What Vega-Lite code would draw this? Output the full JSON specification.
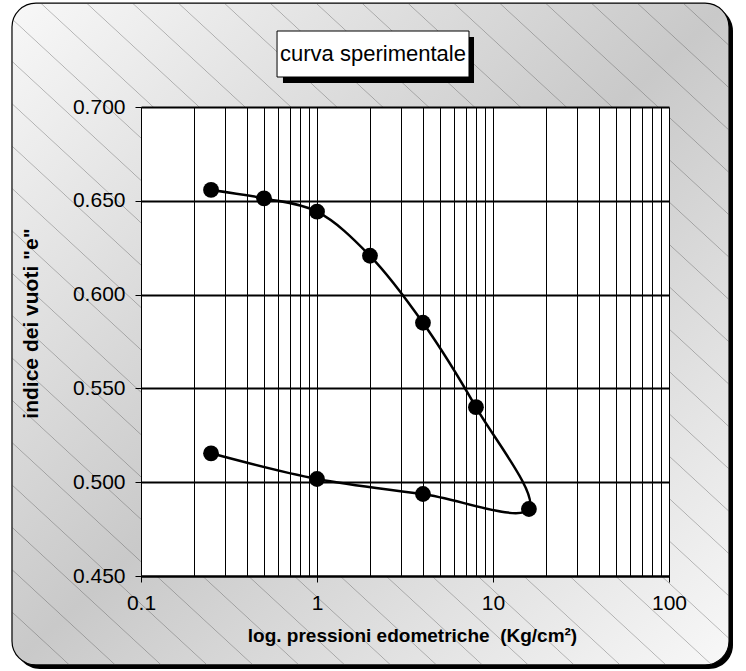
{
  "$schema": "https://vega.github.io/schema/vega-lite/v6.json",
  "width": 528,
  "height": 469,
  "autosize": {"type": "none"},
  "padding": {"left": 141, "top": 107, "right": 77, "bottom": 95},
  "background": "white",
  "config": {"view": {"stroke": null}, "font": "Liberation Sans"},
  "datasets": {
    "oedo": [
      {"seq": 1, "p": 0.25, "e": 0.6558},
      {"seq": 2, "p": 0.5, "e": 0.6513},
      {"seq": 3, "p": 1, "e": 0.6442},
      {"seq": 4, "p": 2, "e": 0.6207},
      {"seq": 5, "p": 4, "e": 0.5850},
      {"seq": 6, "p": 8, "e": 0.5400},
      {"seq": 7, "p": 16, "e": 0.4857},
      {"seq": 8, "p": 4, "e": 0.4937},
      {"seq": 9, "p": 1, "e": 0.5017},
      {"seq": 10, "p": 0.25, "e": 0.5154}
    ]
  },
  "layer": [
    {
      "data": {"values": [{}]},
      "mark": {"type": "rect", "color": "black", "cornerRadius": 24},
      "encoding": {
        "x": {"datum": 0.01949, "type": "quantitative", "scale": {"type": "log", "domain": [0.1, 100], "nice": false}},
        "x2": {"datum": 231},
        "y": {"datum": 0.7533, "type": "quantitative", "scale": {"domain": [0.45, 0.7], "nice": false, "zero": false}},
        "y2": {"datum": 0.4004}
      }
    },
    {
      "data": {"values": [{}]},
      "mark": {"type": "rect", "cornerRadius": 24, "stroke": "black", "strokeWidth": 1.2,
        "fill": {"gradient": "linear", "x1": 0, "y1": 0, "x2": 1, "y2": 1,
          "stops": [{"offset": 0, "color": "#f8f8f8"}, {"offset": 0.5, "color": "#c9c9c9"}, {"offset": 1, "color": "#f8f8f8"}]}},
      "encoding": {
        "x": {"datum": 0.01849, "type": "quantitative", "scale": {"type": "log", "domain": [0.1, 100], "nice": false}},
        "x2": {"datum": 219.3},
        "y": {"datum": 0.7554, "type": "quantitative", "scale": {"domain": [0.45, 0.7], "nice": false, "zero": false}},
        "y2": {"datum": 0.4026}
      }
    },
    {
      "data": {"values": [{}]},
      "mark": {"type": "rect", "cornerRadius": 24,
        "fill": {"gradient": "linear", "x1": 0, "y1": 1, "x2": 1, "y2": 0,
          "stops": [
{"offset":0.0073,"color":"rgba(60,60,60,0)"},{"offset":0.008,"color":"rgba(60,60,60,0.35)"},{"offset":0.0087,"color":"rgba(60,60,60,0)"},
{"offset":0.0393,"color":"rgba(60,60,60,0)"},{"offset":0.040,"color":"rgba(60,60,60,0.35)"},{"offset":0.0407,"color":"rgba(60,60,60,0)"},
{"offset":0.0713,"color":"rgba(60,60,60,0)"},{"offset":0.072,"color":"rgba(60,60,60,0.35)"},{"offset":0.0727,"color":"rgba(60,60,60,0)"},
{"offset":0.1033,"color":"rgba(60,60,60,0)"},{"offset":0.104,"color":"rgba(60,60,60,0.35)"},{"offset":0.1047,"color":"rgba(60,60,60,0)"},
{"offset":0.1353,"color":"rgba(60,60,60,0)"},{"offset":0.136,"color":"rgba(60,60,60,0.35)"},{"offset":0.1367,"color":"rgba(60,60,60,0)"},
{"offset":0.1673,"color":"rgba(60,60,60,0)"},{"offset":0.168,"color":"rgba(60,60,60,0.35)"},{"offset":0.1687,"color":"rgba(60,60,60,0)"},
{"offset":0.1993,"color":"rgba(60,60,60,0)"},{"offset":0.200,"color":"rgba(60,60,60,0.35)"},{"offset":0.2007,"color":"rgba(60,60,60,0)"},
{"offset":0.2313,"color":"rgba(60,60,60,0)"},{"offset":0.232,"color":"rgba(60,60,60,0.35)"},{"offset":0.2327,"color":"rgba(60,60,60,0)"},
{"offset":0.2633,"color":"rgba(60,60,60,0)"},{"offset":0.264,"color":"rgba(60,60,60,0.35)"},{"offset":0.2647,"color":"rgba(60,60,60,0)"},
{"offset":0.2953,"color":"rgba(60,60,60,0)"},{"offset":0.296,"color":"rgba(60,60,60,0.35)"},{"offset":0.2967,"color":"rgba(60,60,60,0)"},
{"offset":0.3273,"color":"rgba(60,60,60,0)"},{"offset":0.328,"color":"rgba(60,60,60,0.35)"},{"offset":0.3287,"color":"rgba(60,60,60,0)"},
{"offset":0.3593,"color":"rgba(60,60,60,0)"},{"offset":0.360,"color":"rgba(60,60,60,0.35)"},{"offset":0.3607,"color":"rgba(60,60,60,0)"},
{"offset":0.3913,"color":"rgba(60,60,60,0)"},{"offset":0.392,"color":"rgba(60,60,60,0.35)"},{"offset":0.3927,"color":"rgba(60,60,60,0)"},
{"offset":0.4233,"color":"rgba(60,60,60,0)"},{"offset":0.424,"color":"rgba(60,60,60,0.35)"},{"offset":0.4247,"color":"rgba(60,60,60,0)"},
{"offset":0.4553,"color":"rgba(60,60,60,0)"},{"offset":0.456,"color":"rgba(60,60,60,0.35)"},{"offset":0.4567,"color":"rgba(60,60,60,0)"},
{"offset":0.4873,"color":"rgba(60,60,60,0)"},{"offset":0.488,"color":"rgba(60,60,60,0.35)"},{"offset":0.4887,"color":"rgba(60,60,60,0)"},
{"offset":0.5193,"color":"rgba(60,60,60,0)"},{"offset":0.520,"color":"rgba(60,60,60,0.35)"},{"offset":0.5207,"color":"rgba(60,60,60,0)"},
{"offset":0.5513,"color":"rgba(60,60,60,0)"},{"offset":0.552,"color":"rgba(60,60,60,0.35)"},{"offset":0.5527,"color":"rgba(60,60,60,0)"},
{"offset":0.5833,"color":"rgba(60,60,60,0)"},{"offset":0.584,"color":"rgba(60,60,60,0.35)"},{"offset":0.5847,"color":"rgba(60,60,60,0)"},
{"offset":0.6153,"color":"rgba(60,60,60,0)"},{"offset":0.616,"color":"rgba(60,60,60,0.35)"},{"offset":0.6167,"color":"rgba(60,60,60,0)"},
{"offset":0.6473,"color":"rgba(60,60,60,0)"},{"offset":0.648,"color":"rgba(60,60,60,0.35)"},{"offset":0.6487,"color":"rgba(60,60,60,0)"},
{"offset":0.6793,"color":"rgba(60,60,60,0)"},{"offset":0.680,"color":"rgba(60,60,60,0.35)"},{"offset":0.6807,"color":"rgba(60,60,60,0)"},
{"offset":0.7113,"color":"rgba(60,60,60,0)"},{"offset":0.712,"color":"rgba(60,60,60,0.35)"},{"offset":0.7127,"color":"rgba(60,60,60,0)"},
{"offset":0.7433,"color":"rgba(60,60,60,0)"},{"offset":0.744,"color":"rgba(60,60,60,0.35)"},{"offset":0.7447,"color":"rgba(60,60,60,0)"},
{"offset":0.7753,"color":"rgba(60,60,60,0)"},{"offset":0.776,"color":"rgba(60,60,60,0.35)"},{"offset":0.7767,"color":"rgba(60,60,60,0)"},
{"offset":0.8073,"color":"rgba(60,60,60,0)"},{"offset":0.808,"color":"rgba(60,60,60,0.35)"},{"offset":0.8087,"color":"rgba(60,60,60,0)"},
{"offset":0.8393,"color":"rgba(60,60,60,0)"},{"offset":0.840,"color":"rgba(60,60,60,0.35)"},{"offset":0.8407,"color":"rgba(60,60,60,0)"},
{"offset":0.8713,"color":"rgba(60,60,60,0)"},{"offset":0.872,"color":"rgba(60,60,60,0.35)"},{"offset":0.8727,"color":"rgba(60,60,60,0)"},
{"offset":0.9033,"color":"rgba(60,60,60,0)"},{"offset":0.904,"color":"rgba(60,60,60,0.35)"},{"offset":0.9047,"color":"rgba(60,60,60,0)"},
{"offset":0.9353,"color":"rgba(60,60,60,0)"},{"offset":0.936,"color":"rgba(60,60,60,0.35)"},{"offset":0.9367,"color":"rgba(60,60,60,0)"},
{"offset":0.9673,"color":"rgba(60,60,60,0)"},{"offset":0.968,"color":"rgba(60,60,60,0.35)"},{"offset":0.9687,"color":"rgba(60,60,60,0)"}
          ]}},
      "encoding": {
        "x": {"datum": 0.01849, "type": "quantitative", "scale": {"type": "log", "domain": [0.1, 100], "nice": false}},
        "x2": {"datum": 219.3},
        "y": {"datum": 0.7554, "type": "quantitative", "scale": {"domain": [0.45, 0.7], "nice": false, "zero": false}},
        "y2": {"datum": 0.4026}
      }
    },
    {
      "data": {"values": [{}]},
      "mark": {"type": "rect", "color": "white"},
      "encoding": {
        "x": {"datum": 0.1, "type": "quantitative", "scale": {"type": "log", "domain": [0.1, 100], "nice": false}},
        "x2": {"datum": 100},
        "y": {"datum": 0.7, "type": "quantitative", "scale": {"domain": [0.45, 0.7], "nice": false, "zero": false}},
        "y2": {"datum": 0.45}
      }
    },
    {
      "data": {"values": [{}]},
      "mark": {"type": "rect", "color": "black"},
      "encoding": {
        "x": {"datum": 0.6408, "type": "quantitative", "scale": {"type": "log", "domain": [0.1, 100], "nice": false}},
        "x2": {"datum": 7.80},
        "y": {"datum": 0.73731, "type": "quantitative", "scale": {"domain": [0.45, 0.7], "nice": false, "zero": false}},
        "y2": {"datum": 0.71279}
      }
    },
    {
      "data": {"values": [{}]},
      "mark": {"type": "rect", "fill": "white", "stroke": "black", "strokeWidth": 1},
      "encoding": {
        "x": {"datum": 0.5929, "type": "quantitative", "scale": {"type": "log", "domain": [0.1, 100], "nice": false}},
        "x2": {"datum": 7.304},
        "y": {"datum": 0.74051, "type": "quantitative", "scale": {"domain": [0.45, 0.7], "nice": false, "zero": false}},
        "y2": {"datum": 0.71599}
      }
    },
    {
      "data": {"values": [{"label": "curva sperimentale"}]},
      "mark": {"type": "text", "font": "Liberation Sans", "fontSize": 22, "color": "black", "align": "center", "baseline": "middle"},
      "encoding": {
        "x": {"datum": 2.08, "type": "quantitative", "scale": {"type": "log", "domain": [0.1, 100], "nice": false}},
        "y": {"datum": 0.72825, "type": "quantitative", "scale": {"domain": [0.45, 0.7], "nice": false, "zero": false}},
        "text": {"field": "label"}
      }
    },
    {
      "data": {"name": "oedo"},
      "mark": {"type": "line", "color": "black", "strokeWidth": 2.5, "interpolate": "catmull-rom"},
      "encoding": {
        "x": {"field": "p", "type": "quantitative", "scale": {"type": "log", "domain": [0.1, 100], "nice": false},
          "axis": {
            "values": [0.1,0.2,0.3,0.4,0.5,0.6,0.7,0.8,0.9,1,2,3,4,5,6,7,8,9,10,20,30,40,50,60,70,80,90,100],
            "labelExpr": "indexof([0.1,1,10,100], datum.value) >= 0 ? toString(datum.value) : ''",
            "tickOpacity": {"condition": {"test": "indexof([0.1,1,10,100], datum.value) >= 0", "value": 1}, "value": 0},
            "grid": true, "gridColor": "black", "gridWidth": 1, "gridOpacity": 1,
            "domainColor": "black", "domainWidth": 2,
            "tickColor": "black", "tickSize": 6, "tickWidth": 1,
            "labelFont": "Liberation Sans", "labelFontSize": 21, "labelColor": "black", "labelPadding": 10,
            "labelOverlap": false, "labelFlush": false,
            "title": "log. pressioni edometriche \u00a0(Kg/cm²)",
            "titleFont": "Liberation Sans", "titleFontSize": 19, "titleFontWeight": "bold", "titleColor": "black", "titlePadding": 13,
            "titleX": 271,
            "zindex": 1
          }},
        "y": {"field": "e", "type": "quantitative", "scale": {"domain": [0.45, 0.7], "nice": false, "zero": false},
          "axis": {
            "values": [0.45, 0.5, 0.55, 0.6, 0.65, 0.7],
            "format": ".3f",
            "grid": true, "gridColor": "black", "gridWidth": 2, "gridOpacity": 1,
            "domainColor": "black", "domainWidth": 1,
            "tickColor": "black", "tickSize": 6, "tickWidth": 1,
            "labelFont": "Liberation Sans", "labelFontSize": 21, "labelColor": "black", "labelPadding": 10,
            "title": "indice dei vuoti \"e\"",
            "titleFont": "Liberation Sans", "titleFontSize": 21, "titleFontWeight": "bold", "titleColor": "black", "titlePadding": 31,
            "titleY": 216,
            "zindex": 1
          }},
        "order": {"field": "seq", "type": "quantitative"}
      }
    },
    {
      "data": {"name": "oedo"},
      "mark": {"type": "point", "filled": true, "color": "black", "opacity": 1, "size": 250, "shape": "circle"},
      "encoding": {
        "x": {"field": "p", "type": "quantitative", "scale": {"type": "log", "domain": [0.1, 100], "nice": false}},
        "y": {"field": "e", "type": "quantitative", "scale": {"domain": [0.45, 0.7], "nice": false, "zero": false}}
      }
    }
  ]
}
